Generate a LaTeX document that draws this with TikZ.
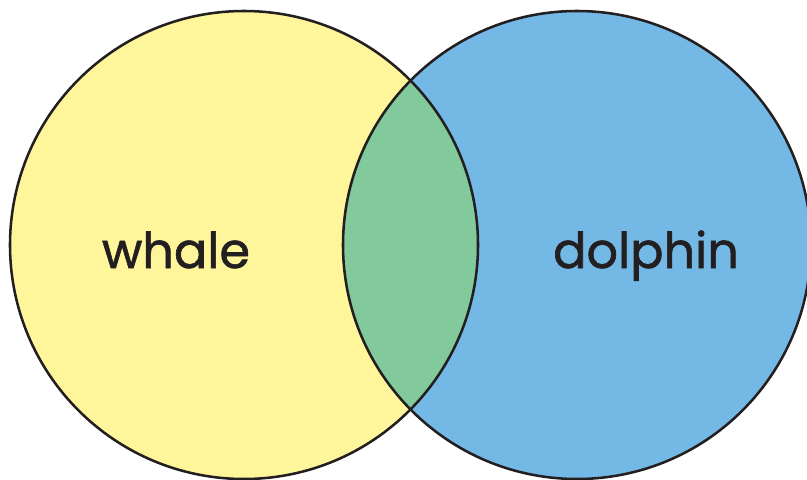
\documentclass[tikz,border=0pt]{standalone}
\usepackage{fontspec}
\setmainfont{Poppins}
\newfontfamily\labelfont{Poppins}[FakeBold=1.2]
\usepackage{tikz}
\usetikzlibrary{positioning}
\definecolor{vennYellow}{HTML}{FFF59B}
\definecolor{vennBlue}{HTML}{74B8E6}
\definecolor{vennGreen}{HTML}{82C99C}
\definecolor{vennInk}{HTML}{231F20}

\begin{document}
\begin{tikzpicture}[x=0.75pt,y=-0.75pt,
    setline/.style={draw=vennInk,line width=1.9pt},
    setlabel/.style={text=vennInk,font=\labelfont\fontsize{37}{40}\selectfont,
                     inner sep=0pt,anchor=base}]
  \useasboundingbox (0,0) rectangle (807,479);
  \coordinate (lc) at (244,245);
  \coordinate (rc) at (577,245);
  % the two sets
  \fill[vennYellow] (lc) circle (234);
  \fill[vennBlue]   (rc) circle (234);
  \begin{scope}
    \clip (lc) circle (234);
    \fill[vennGreen] (rc) circle (234);
  \end{scope}
  \draw[setline] (lc) circle (234);
  \draw[setline] (rc) circle (234);
  % labels
  \node[setlabel] (whale)   at (176,268) {whale};
  \node[setlabel] (dolphin) at (646,268) {dolphin};
\end{tikzpicture}
\end{document}
